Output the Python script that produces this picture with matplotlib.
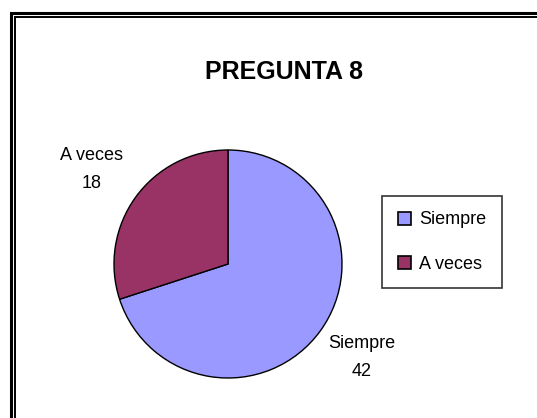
import matplotlib.pyplot as plt
from matplotlib.patches import Rectangle

# Data
categories = ['Siempre', 'A veces']
values = [42, 18]
colors = ['#9999FF', '#993366']
title = 'PREGUNTA 8'

W, H = 537, 418
fig = plt.figure(figsize=(W / 100, H / 100), dpi=100)
fig.patch.set_facecolor('white')

font = 'Liberation Sans'

# double frame (runs off right and bottom edges)
def px_rect(x, y, lw):
    # x, y = top-left corner in pixels; rectangle extends off the figure
    return Rectangle((x / W, -0.2), 2.0, (H - y) / H + 0.2, transform=fig.transFigure,
                     fill=False, edgecolor='black', linewidth=lw, clip_on=False)

fig.patches.append(px_rect(10.5, 12.5, 2.2))
fig.patches.append(px_rect(15, 17, 1.4))

# pie axes
cx, cy, r = 228, 264, 114
ax = fig.add_axes([(cx - r) / W, (H - cy - r) / H, 2 * r / W, 2 * r / H])
wedges, _ = ax.pie(values, colors=colors, startangle=90, counterclock=False,
                   wedgeprops=dict(edgecolor='black', linewidth=1.0))
ax.set_xlim(-1, 1)
ax.set_ylim(-1, 1)
ax.set_aspect('equal')
ax.axis('off')

# data labels
lab_pos = {'Siempre': (1.17, -0.82), 'A veces': (-1.20, 0.83)}
for cat, val in zip(categories, values):
    x, y = lab_pos[cat]
    ax.text(x, y, f'{cat}\n{val}', ha='center', va='center', fontsize=13,
            family=font, linespacing=1.85)

fig.text(284 / W, 1 - 72 / H, title, ha='center', va='center', fontsize=18,
         fontweight='bold', family=font)

leg = fig.legend(wedges, categories, loc='center', bbox_to_anchor=(442 / W, 1 - 242 / H),
                 prop={'family': font, 'size': 13}, frameon=True, fancybox=False,
                 handlelength=0.75, handleheight=0.75, handletextpad=0.45,
                 labelspacing=1.5, borderpad=0.85, borderaxespad=0)
leg.get_frame().set_edgecolor('black')
leg.get_frame().set_linewidth(1.2)
for h in leg.legend_handles:
    h.set_edgecolor('black')
    h.set_linewidth(1.2)

plt.savefig('out.png', dpi=100)
